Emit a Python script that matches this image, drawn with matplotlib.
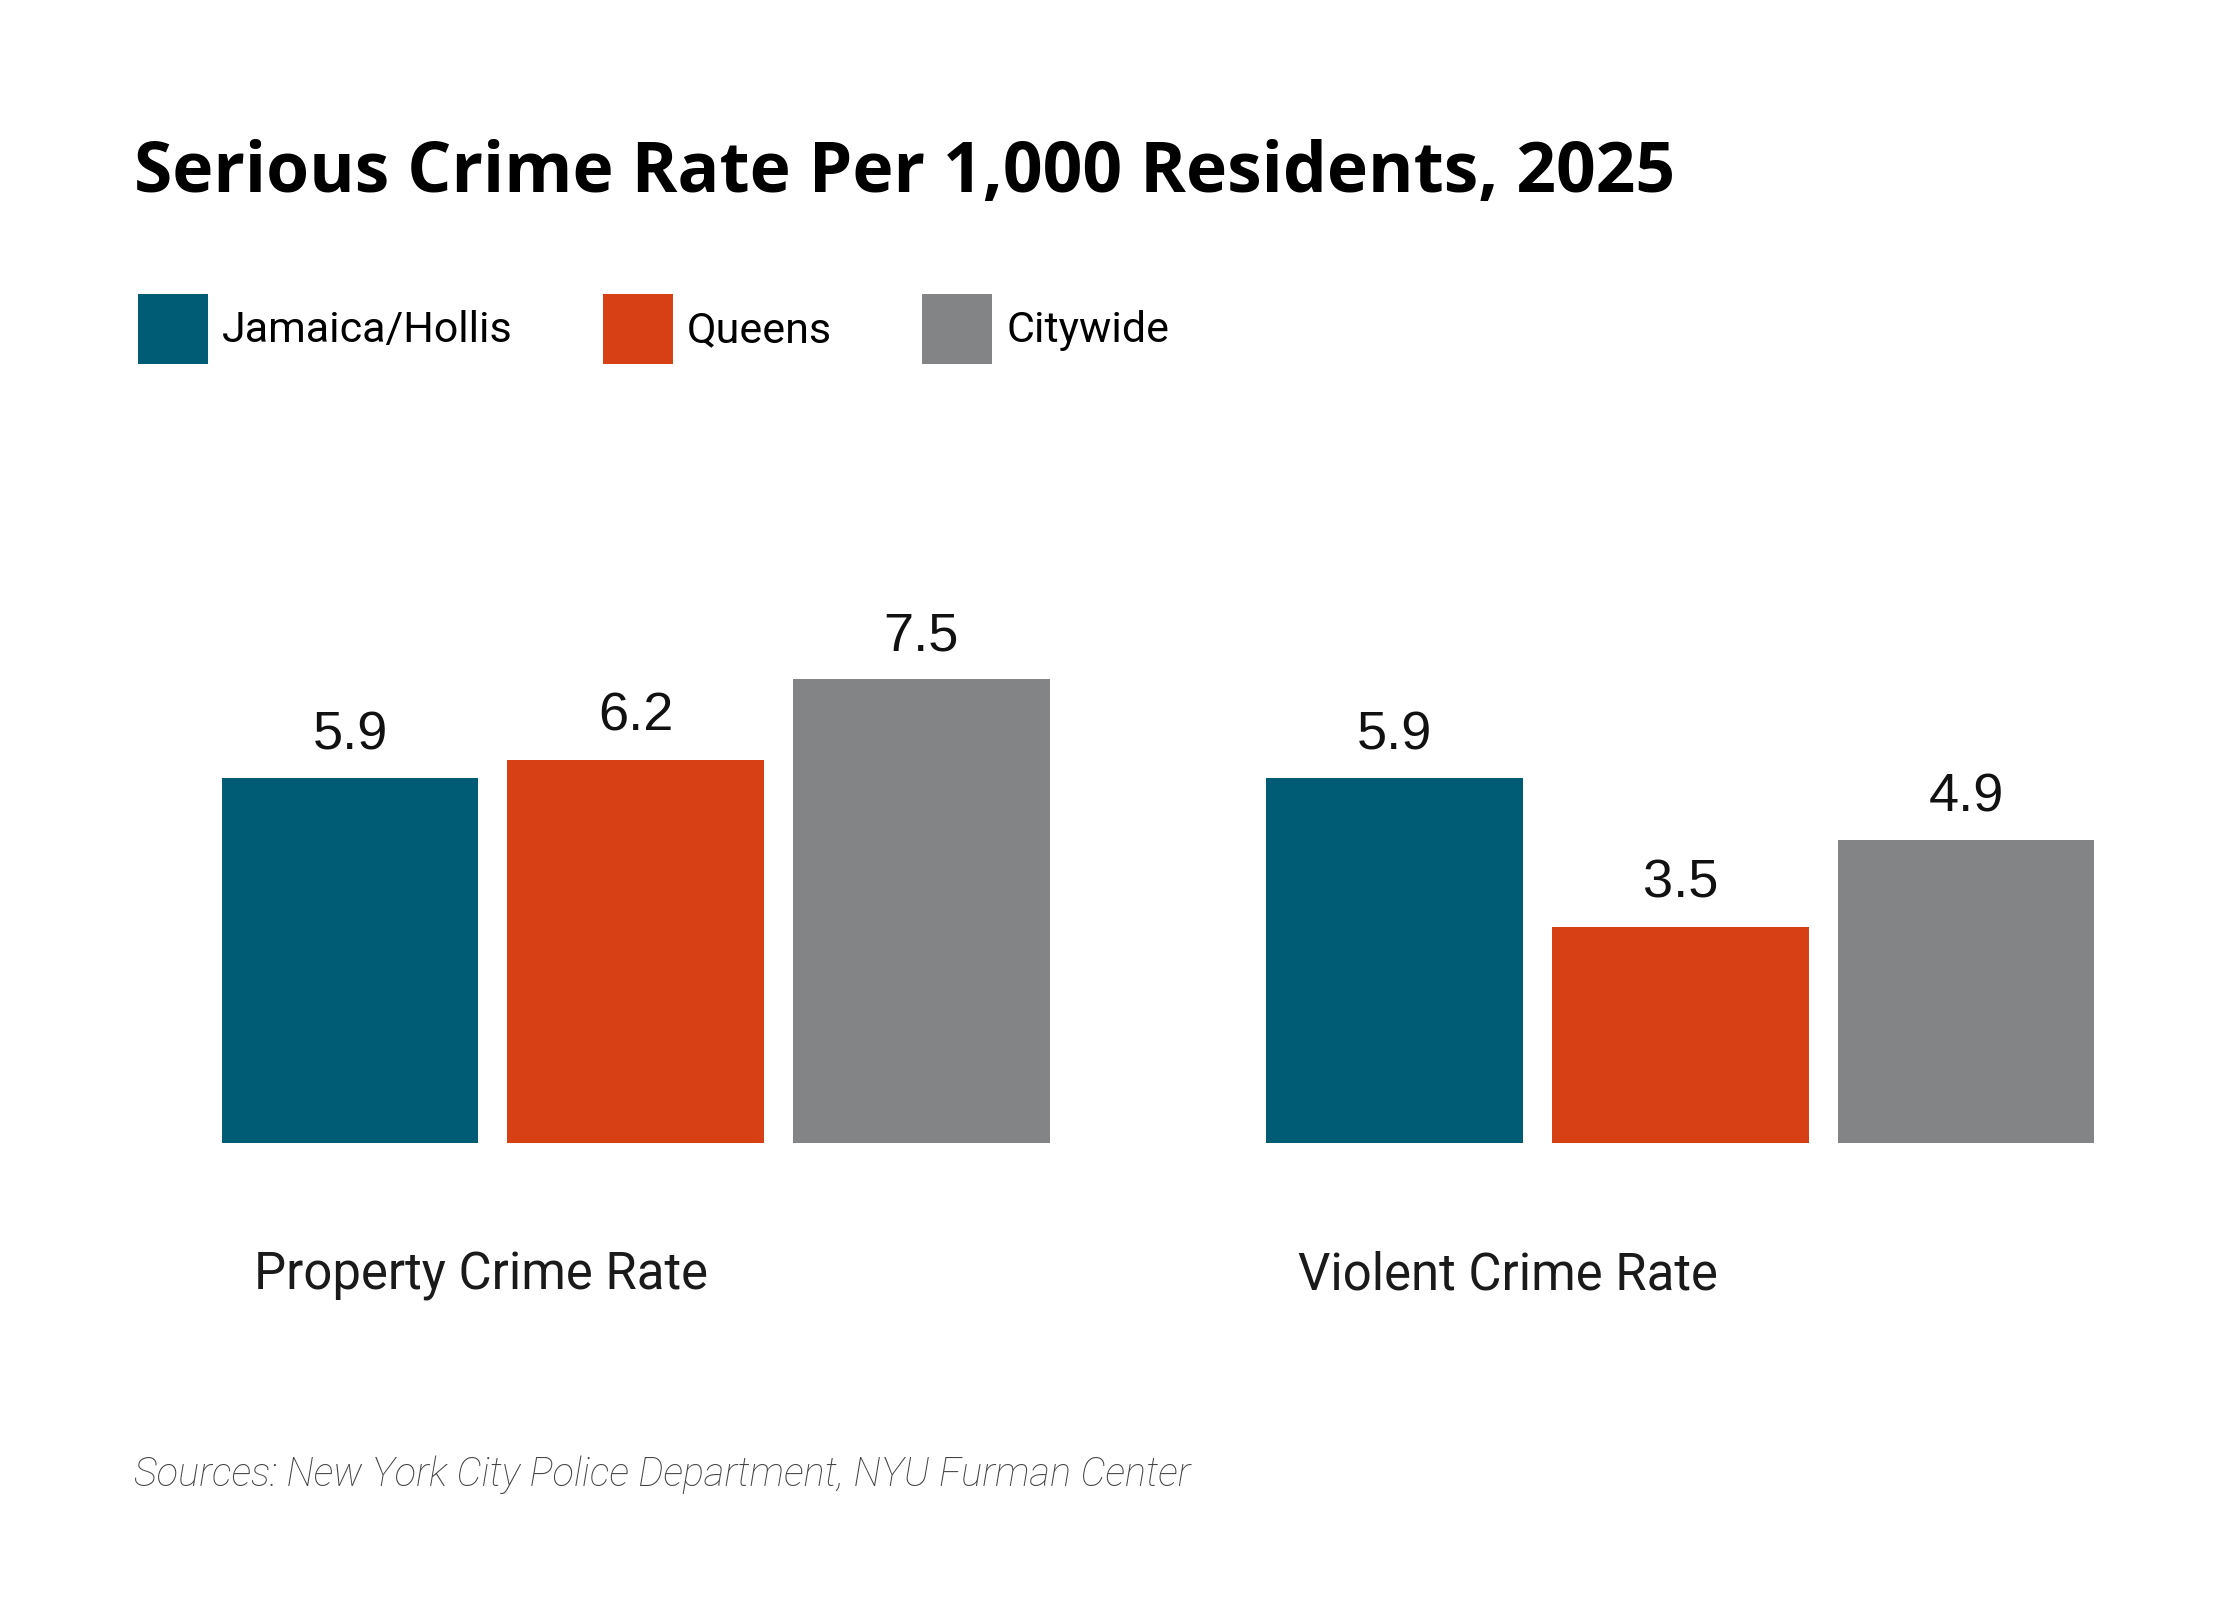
import matplotlib.pyplot as plt
from matplotlib.transforms import blended_transform_factory

# data
categories = ['Property Crime Rate', 'Violent Crime Rate']
series = ['Jamaica/Hollis', 'Queens', 'Citywide']
values = {
    'Jamaica/Hollis': [5.9, 5.9],
    'Queens': [6.2, 3.5],
    'Citywide': [7.5, 4.9],
}
colors = ['#005b74', '#d64014', '#838486']

title = 'Serious Crime Rate Per 1,000 Residents, 2025'
source = 'Sources: New York City Police Department, NYU Furman Center'

fig = plt.figure(figsize=(11.2, 8), dpi=200)
ax = fig.add_axes([0.099, 0.2855, 0.836, 0.3865])

group_step = 4.07
bar_step = 1.113
bars = []
for i, name in enumerate(series):
    xs = [g * group_step + i * bar_step for g in range(len(categories))]
    b = ax.bar(xs, values[name], width=1.0, color=colors[i], label=name)
    bars.append(b)
    for x, v in zip(xs, values[name]):
        ax.annotate(f'{v:.1f}', (x, v), xytext=(0, 10.5), textcoords='offset points',
                    ha='center', va='baseline', fontsize=19.5,
                    family='Liberation Sans', color='#111111')

ax.set_xlim(-0.5, group_step + 2 * bar_step + 0.5)
ax.set_ylim(0, 10)
ax.axis('off')

# category labels under each group
trans = blended_transform_factory(ax.transData, fig.transFigure)
for g, cat in enumerate(categories):
    ax.text(g * group_step - 0.5 + 0.124, 0.194, cat, transform=trans,
            ha='left', va='baseline', fontsize=18.3, family='Roboto', color='#1a1a1a')

fig.text(0.060, 0.880, title, ha='left', va='baseline', fontsize=25,
         family='Open Sans', fontweight='bold', color='black')

fig.legend(handles=bars, labels=series, loc='upper left',
           bbox_to_anchor=(0.0615, 0.8164), frameon=False, ncol=3,
           prop={'family': 'Roboto', 'size': 15.5},
           handlelength=1.62, handleheight=2.12, handletextpad=0.33,
           columnspacing=2.1, borderpad=0, borderaxespad=0)

fig.text(0.060, 0.071, source, ha='left', va='baseline', fontsize=14.3,
         family='Roboto', style='italic', fontweight='light', color='#444444')

fig.savefig('out.png', dpi=200, facecolor='white')
